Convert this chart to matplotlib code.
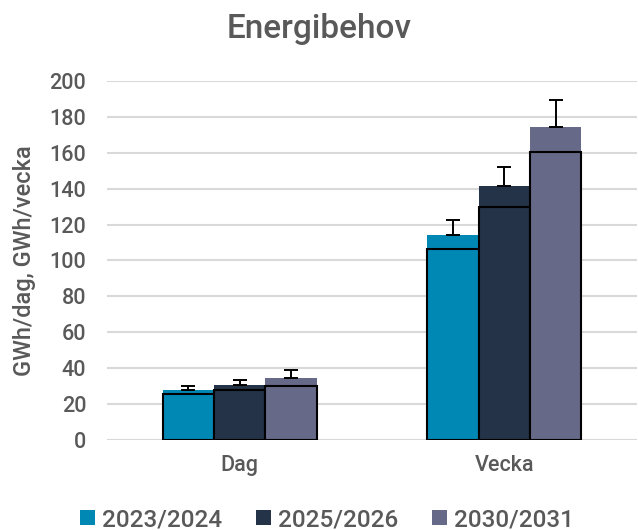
import matplotlib.pyplot as plt
import numpy as np

plt.rcParams['font.family'] = ['Roboto', 'DejaVu Sans']
plt.rcParams['font.weight'] = 'medium'

categories = ['Dag', 'Vecka']
series = ['2023/2024', '2025/2026', '2030/2031']
colors = ['#0088b4', '#243347', '#666a88']

# lower (outlined) part, full bar height, upward error
base = [[25.6, 106.4], [28.0, 130.0], [30.0, 160.2]]
total = [[27.6, 114.2], [30.6, 141.6], [34.3, 174.4]]
err_up = [[2.5, 8.3], [2.6, 10.6], [4.4, 14.8]]

fig = plt.figure(figsize=(6.38, 5.30), dpi=100)
ax = fig.add_axes([0.168, 0.170, 0.83, 0.677])

x = np.arange(len(categories))
w = 0.194
for i, name in enumerate(series):
    pos = x + (i - 1) * w
    ax.bar(pos, total[i], w, color=colors[i], zorder=2, label=name)
    ax.bar(pos, base[i], w, color=colors[i], edgecolor='black', linewidth=1.5, zorder=3)
    ax.errorbar(pos, total[i], yerr=[[0, 0], err_up[i]], fmt='none', ecolor='black',
                elinewidth=1.4, capsize=5, capthick=1.4, zorder=4)

ax.set_xlim(-0.5, 1.5)
ax.set_ylim(0, 200)
ax.set_yticks(range(0, 201, 20))
ax.set_xticks(x)
ax.set_xticklabels(categories)
ax.grid(axis='y', color='#d9d9d9', linewidth=1.5, zorder=0)
ax.set_axisbelow(True)
for s in ax.spines.values():
    s.set_visible(False)
ax.tick_params(length=0, labelsize=15.5, colors='#595959')
ax.tick_params(axis='y', pad=15)
ax.tick_params(axis='x', pad=11)

ax.set_ylabel('GWh/dag, GWh/vecka', fontsize=17, fontweight='medium', color='#595959',
              labelpad=10)
fig.suptitle('Energibehov', fontsize=24, fontweight='medium', color='#595959', y=0.975)

ax.legend(loc='lower center', bbox_to_anchor=(0.415, -0.315), ncol=3, frameon=False,
          fontsize=17.5, labelcolor='#595959', handlelength=0.6, handleheight=0.6,
          handletextpad=0.3, columnspacing=1.4)

fig.savefig('out.png', dpi=100)
